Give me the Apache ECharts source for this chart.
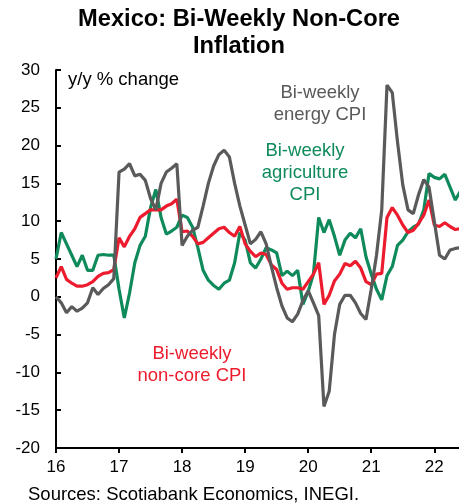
<!DOCTYPE html>
<html><head><meta charset="utf-8">
<script src="https://cdn.jsdelivr.net/npm/echarts@6/dist/echarts.min.js"></script>
<style>html,body{margin:0;padding:0;background:#fff}#c{width:459px;height:503px}</style>
</head><body><div id="c"></div>
<script>
// Monthly readings, Jan 2016 onward (y/y % change)
const START_YEAR = 2016;
const energy = [
  0.0, -0.8, -2.1, -1.3, -1.9, -1.5, -0.8, 1.2, 0.3, 1.1, 1.6, 2.4,
  16.5, 16.9, 17.6, 16.0, 16.2, 15.4, 13.0, 11.5, 15.0, 16.5, 17.0, 17.6,
  6.8, 8.0, 8.8, 9.2, 12.0, 15.0, 17.3, 18.8, 19.4, 18.5, 15.0, 12.0,
  9.5, 7.0, 7.6, 8.6, 7.0, 4.0, 1.2, -1.2, -2.8, -3.3, -2.3, -0.5,
  0.8, -0.8, -2.5, -14.5, -12.5, -5.0, -1.0, 0.2, 0.2, -0.8, -2.2, -3.0,
  1.0, 5.5, 11.5, 28.0, 27.0, 20.5, 14.8, 11.5, 11.0, 13.5, 15.5, 14.5,
  10.0, 5.5, 5.0, 6.2, 6.4, 6.5
];
const agriculture = [
  5.0, 8.5, 7.0, 5.5, 4.0, 5.5, 3.5, 3.5, 5.5, 5.6, 5.5, 5.5,
  1.0, -2.8, 0.5, 4.5, 6.8, 8.0, 11.8, 14.2, 10.5, 8.3, 8.7, 9.2,
  10.8, 10.5, 9.2, 6.5, 3.5, 2.2, 1.5, 1.0, 1.8, 2.2, 4.5, 8.5,
  7.5, 4.5, 3.8, 5.0, 6.5, 6.2, 5.8, 2.8, 3.4, 2.8, 3.5, -1.0,
  0.7, 3.0, 10.5, 8.5, 10.2, 8.0, 5.5, 7.5, 8.4, 7.8, 9.0, 5.3,
  3.0, 1.0, -0.4, 2.8, 4.0, 6.8, 7.5, 8.6, 9.2, 9.6, 11.5, 16.3,
  15.8, 15.6, 16.2, 14.5, 12.8, 14.0
];
const nonCore = [
  2.5, 4.0, 2.3, 1.8, 1.4, 1.4, 1.6, 2.0, 2.7, 3.1, 3.2, 3.6,
  7.8, 6.6, 8.0, 9.0, 10.5, 11.0, 11.5, 11.5, 11.5, 12.0, 12.3, 12.9,
  8.6, 8.7, 8.0, 7.0, 7.2, 7.8, 8.4, 9.0, 9.2, 8.5, 8.0, 9.3,
  7.0, 6.0, 5.3, 5.8, 5.6, 4.2, 3.6, 1.8, 1.0, 1.2, 1.2, 1.0,
  2.0, 3.0, 4.5, -1.0, 0.2, 2.1, 3.0, 4.4, 4.1, 4.7, 3.8, 2.0,
  1.6, 3.0, 3.1, 10.5, 11.8, 10.8, 9.5, 8.5, 8.8, 9.7, 10.8, 12.8,
  9.5, 9.3, 9.8, 9.3, 8.9, 9.0
];
const yearTicks = [2016, 2017, 2018, 2019, 2020, 2021, 2022];
const yearLabels = ['16', '17', '18', '19', '20', '21', '22'];

const dates = energy.map((_, i) => START_YEAR + i / 12);
const pairs = arr => arr.map((v, i) => [dates[i], v]);

const FONT = '"Liberation Sans", Arial, sans-serif';
const RED = '#ec1c2e', GREEN = '#0f8a5b', GRAY = '#5a5a5a';

const chart = echarts.init(document.getElementById('c'), null, {renderer: 'canvas'});
chart.setOption({
  animation: false,
  backgroundColor: '#fff',
  textStyle: {fontFamily: FONT},
  grid: {left: 56, right: 0, top: 70, bottom: 55},
  xAxis: [{
    type: 'value', min: 2016, max: 2022.392, position: 'bottom',
    axisLine: {show: false}, axisTick: {show: false}, splitLine: {show: false},
    axisLabel: {
      customValues: yearTicks,
      formatter: v => yearLabels[yearTicks.indexOf(Math.round(v))] || '',
      fontSize: 17, color: '#000', margin: 11, fontFamily: FONT
    }
  }, {
    type: 'value', min: 2016, max: 2022.392, position: 'bottom',
    axisLine: {show: true, onZero: true, lineStyle: {color: '#000', width: 2}},
    axisTick: {show: true, customValues: yearTicks, length: 5, lineStyle: {color: '#000', width: 2}},
    axisLabel: {show: false}, splitLine: {show: false}
  }],
  yAxis: {
    type: 'value', min: -20, max: 30, interval: 5,
    axisLine: {show: true, onZero: false, lineStyle: {color: '#000', width: 2}},
    axisTick: {show: true, inside: true, length: 5, lineStyle: {color: '#000', width: 2}},
    axisLabel: {fontSize: 17, color: '#000', margin: 16, fontFamily: FONT},
    splitLine: {show: false}
  },
  series: [
    {type: 'line', name: 'agriculture', xAxisIndex: 0, data: pairs(agriculture), showSymbol: false,
     lineStyle: {color: GREEN, width: 3.2}, itemStyle: {color: GREEN}},
    {type: 'line', name: 'non-core', xAxisIndex: 0, data: pairs(nonCore), showSymbol: false,
     lineStyle: {color: RED, width: 3.2}, itemStyle: {color: RED}},
    {type: 'line', name: 'energy', xAxisIndex: 0, data: pairs(energy), showSymbol: false,
     lineStyle: {color: GRAY, width: 3.2}, itemStyle: {color: GRAY}}
  ],
  graphic: [
    {type: 'text', style: {text: 'Mexico: Bi-Weekly Non-Core\nInflation', x: 239, y: 6, textAlign: 'center', fill: '#000', font: 'bold 23.7px ' + FONT, lineHeight: 27}},
    {type: 'text', style: {text: 'y/y % change', x: 68, y: 70, fill: '#000', font: '18.5px ' + FONT}},
    {type: 'text', style: {text: 'Bi-weekly\nenergy CPI', x: 320, y: 82, textAlign: 'center', fill: '#595959', font: '18.5px ' + FONT, lineHeight: 22}},
    {type: 'text', style: {text: 'Bi-weekly\nagriculture\nCPI', x: 305, y: 140, textAlign: 'center', fill: GREEN, font: '18.5px ' + FONT, lineHeight: 22}},
    {type: 'text', style: {text: 'Bi-weekly\nnon-core CPI', x: 192, y: 343, textAlign: 'center', fill: RED, font: '18.5px ' + FONT, lineHeight: 22}},
    {type: 'text', style: {text: 'Sources: Scotiabank Economics, INEGI.', x: 28, y: 485, fill: '#000', font: '18.5px ' + FONT}}
  ]
});
</script>
</body></html>
